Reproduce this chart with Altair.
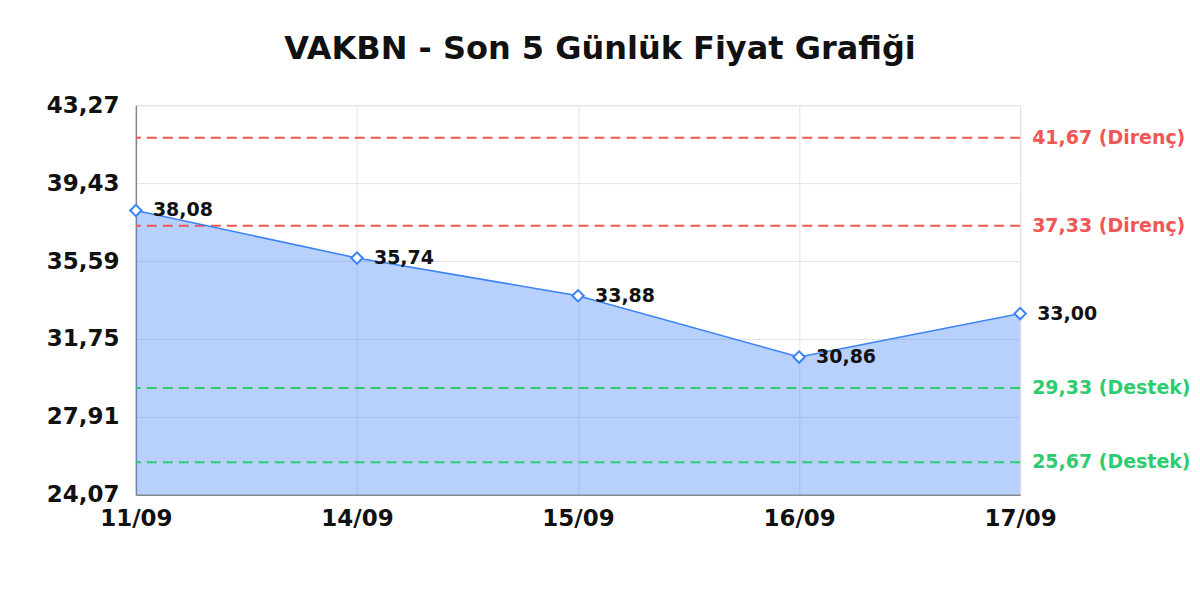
import altair as alt
import pandas as pd

dates = ["11/09", "14/09", "15/09", "16/09", "17/09"]
prices = [38.08, 35.74, 33.88, 30.86, 33.00]
y_ticks = [24.07, 27.91, 31.75, 35.59, 39.43, 43.27]
level_values = [41.67, 37.33, 29.33, 25.67]
level_kinds = ["Direnç", "Direnç", "Destek", "Destek"]
level_colors = ["#f05656", "#f05656", "#2ecc71", "#2ecc71"]

W, H = 885, 390
Y_MIN, Y_MAX = 24.07, 43.27

df = pd.DataFrame({"date": dates, "price": prices})
df["label"] = [f"{p:.2f}".replace(".", ",") for p in prices]
lv = pd.DataFrame({"value": level_values, "kind": level_kinds, "color": level_colors})
lv["label"] = [f"{v:.2f}".replace(".", ",") + f" ({k})" for v, k in zip(level_values, level_kinds)]

FONT = "DejaVu Sans"
yscale = alt.Scale(domain=[Y_MIN, Y_MAX], nice=False, zero=False)
xenc = alt.X("date:O", sort=dates, scale=alt.Scale(padding=0),
             axis=alt.Axis(title=None, labelAngle=0, labelFont=FONT, labelFontSize=23,
                           labelFontWeight="bold", labelColor="#111", labelPadding=13,
                           ticks=False, domainColor="#888", domainWidth=1.5,
                           grid=True, gridColor="#e4e4e4"))
yenc = alt.Y("price:Q", scale=yscale,
             axis=alt.Axis(title=None, values=y_ticks, labelFont=FONT, labelFontSize=23,
                           labelFontWeight="bold", labelColor="#111", labelPadding=17,
                           labelExpr="replace(format(datum.value, '.2f'), '.', ',')",
                           ticks=False, domainColor="#888", domainWidth=1.5,
                           grid=True, gridColor="#e4e4e4"))

base = alt.Chart(df)
area = base.mark_area(color="#3b82f6", opacity=0.37).encode(
    x=xenc, y=yenc, y2=alt.datum(Y_MIN))
line = base.mark_line(color="#3b82f6", strokeWidth=1.5).encode(x=xenc, y=yenc)
pts = base.mark_point(shape="diamond", filled=True, fill="white", stroke="#3b82f6",
                      strokeWidth=2, size=130, opacity=1).encode(x=xenc, y=yenc)
txt = base.mark_text(align="left", dx=17, font=FONT, fontSize=19, fontWeight="bold",
                     color="#111").encode(x=xenc, y=yenc, text="label:N")

rules = alt.Chart(lv).mark_rule(strokeDash=[10, 6], strokeWidth=2).encode(
    y=alt.Y("value:Q", scale=yscale), color=alt.Color("color:N", scale=None))
rtxt = alt.Chart(lv).mark_text(align="left", baseline="middle", dx=0, font=FONT,
                               fontSize=19, fontWeight="bold").encode(
    x=alt.value(W + 12), y=alt.Y("value:Q", scale=yscale),
    text="label:N", color=alt.Color("color:N", scale=None))

chart = alt.layer(area, rules, line, pts, txt, rtxt).properties(
    width=W, height=H,
    autosize=alt.AutoSizeParams(type="none"),
    padding={"left": 128, "top": 97, "right": 172, "bottom": 90},
    title=alt.TitleParams("VAKBN - Son 5 Günlük Fiyat Grafiği", font=FONT, fontSize=32,
                          fontWeight="bold", color="#111", anchor="middle", dx=22, offset=28),
).configure_view(stroke=None).configure(background="white")

chart.save("out.html", embed_options={"renderer": "svg", "actions": False})
